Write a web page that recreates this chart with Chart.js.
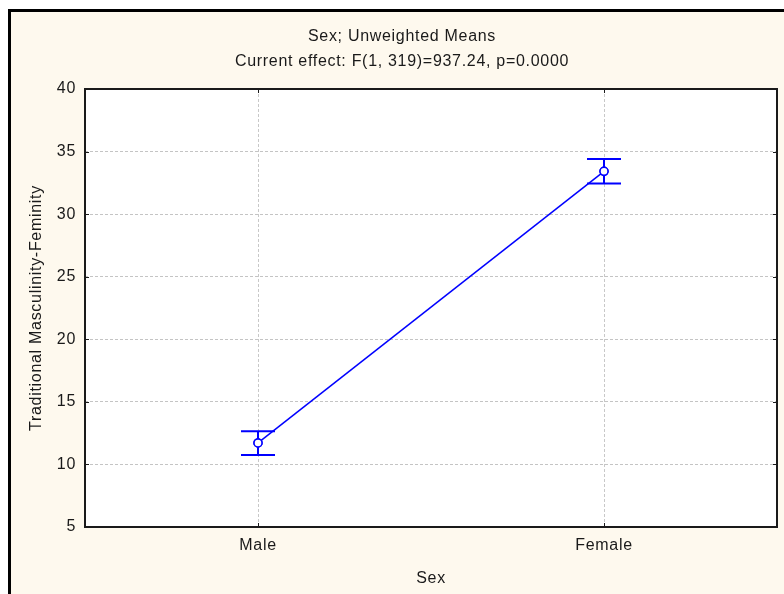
<!DOCTYPE html>
<html>
<head>
<meta charset="utf-8">
<script src="https://cdn.jsdelivr.net/npm/chart.js@4"></script>
<style>
  html, body { margin: 0; padding: 0; background: #ffffff; }
  #wrap { position: relative; width: 784px; height: 594px; }
</style>
</head>
<body>
<div id="wrap"><canvas id="meansChart" width="784" height="594"></canvas></div>
<script>
const categories = ['Male', 'Female'];
const means = [11.72, 33.42];
const lowerBound = [10.75, 32.45];
const upperBound = [12.65, 34.40];
const yTicks = [5, 10, 15, 20, 25, 30, 35, 40];

const blue = '#0000ff';
const cream = '#fef9ee';
const font16 = { family: '"Liberation Sans", Arial, sans-serif', size: 16 };

// background, frame and the white plot area
const framePlugin = {
    id: 'frame',
    afterLayout(chart) {
        // the title is centred a little right of the canvas middle
        if (chart.titleBlock) chart.titleBlock.left = 27;
    },
    beforeDraw(chart) {
        const c = chart.ctx;
        const a = chart.chartArea;
        c.save();
        c.fillStyle = '#ffffff';
        c.fillRect(0, 0, chart.width, chart.height);
        c.fillStyle = cream;
        c.fillRect(8, 9, chart.width, chart.height);
        c.fillStyle = '#000000';
        c.fillRect(8, 9, 3, chart.height);
        c.fillRect(8, 9, chart.width, 3);
        c.fillStyle = '#ffffff';
        c.fillRect(a.left, a.top, a.right - a.left, a.bottom - a.top);
        c.restore();
        c.letterSpacing = '0.7px';
    },
    afterDraw(chart) {
        const c = chart.ctx;
        const a = chart.chartArea;
        const x = chart.scales.x, y = chart.scales.y;
        c.save();
        c.strokeStyle = '#1a1a1a';
        c.lineWidth = 2;
        c.strokeRect(a.left, a.top, a.right - a.left, a.bottom - a.top);
        c.lineWidth = 1;
        c.beginPath();
        y.ticks.forEach((t, i) => {
            const py = Math.round(y.getPixelForTick(i)) + 0.5;
            c.moveTo(a.left, py); c.lineTo(a.left + 4, py);
            c.moveTo(a.right, py); c.lineTo(a.right - 4, py);
        });
        x.ticks.forEach((t, i) => {
            const px = Math.round(x.getPixelForTick(i)) + 0.5;
            c.moveTo(px, a.bottom); c.lineTo(px, a.bottom - 4);
            c.moveTo(px, a.top); c.lineTo(px, a.top + 4);
        });
        c.stroke();
        c.restore();
    }
};

// whiskers from the bound arrays, placed through the chart scales
const errorBarPlugin = {
    id: 'errorBars',
    afterDatasetsDraw(chart) {
        const c = chart.ctx;
        const x = chart.scales.x, y = chart.scales.y;
        c.save();
        c.strokeStyle = blue;
        c.lineWidth = 2;
        categories.forEach((cat, i) => {
            const px = x.getPixelForValue(i);
            const top = y.getPixelForValue(upperBound[i]);
            const bot = y.getPixelForValue(lowerBound[i]);
            c.beginPath();
            c.moveTo(px, top); c.lineTo(px, bot);
            c.moveTo(px - 17, top); c.lineTo(px + 17, top);
            c.moveTo(px - 17, bot); c.lineTo(px + 17, bot);
            c.stroke();
        });
        c.restore();
        // redraw the points on top of the whiskers
        chart.getDatasetMeta(0).data.forEach(p => p.draw(c, chart.chartArea));
    }
};

const ctx = document.getElementById('meansChart').getContext('2d');
const meansChart = new Chart(ctx, {
    type: 'line',
    data: {
        labels: categories,
        datasets: [{
            label: 'Mean',
            data: means,
            borderColor: blue,
            borderWidth: 1.5,
            backgroundColor: '#ffffff',
            pointRadius: 4,
            pointBorderWidth: 1.5,
            pointBorderColor: blue,
            pointBackgroundColor: '#ffffff',
            tension: 0
        }]
    },
    options: {
        responsive: false,
        animation: false,
        events: [],
        layout: { padding: { left: 0, right: 7, top: 0, bottom: 0 } },
        plugins: {
            legend: { display: false },
            tooltip: { enabled: false },
            title: {
                display: true,
                text: ['Sex; Unweighted Means', 'Current effect: F(1, 319)=937.24, p=0.0000'],
                color: '#1a1a1a',
                font: { ...font16, weight: 'normal', lineHeight: '25px' },
                padding: { top: 24, bottom: 15 }
            }
        },
        scales: {
            x: {
                type: 'category',
                offset: true,
                afterFit: s => { s.height = 67; },
                grid: { offset: false, drawTicks: false, color: '#c8c8c8', lineWidth: 1 },
                border: { display: false, dash: [3, 2] },
                ticks: { color: '#1a1a1a', font: font16, padding: 9 },
                title: { display: true, text: 'Sex', color: '#1a1a1a', font: font16, padding: { top: 0, bottom: 6 } }
            },
            y: {
                min: 5,
                max: 40,
                afterFit: s => { s.width = 85; },
                afterBuildTicks: s => { s.ticks = yTicks.map(v => ({ value: v })); },
                grid: { drawTicks: false, color: '#c4c4c4', lineWidth: 1 },
                border: { display: false, dash: [3, 2] },
                ticks: { color: '#1a1a1a', font: font16, padding: 9 },
                title: { display: true, text: 'Traditional Masculinity-Feminity', color: '#1a1a1a', font: font16, padding: { top: 27, bottom: 0 } }
            }
        }
    },
    plugins: [framePlugin, errorBarPlugin]
});
</script>
</body>
</html>
